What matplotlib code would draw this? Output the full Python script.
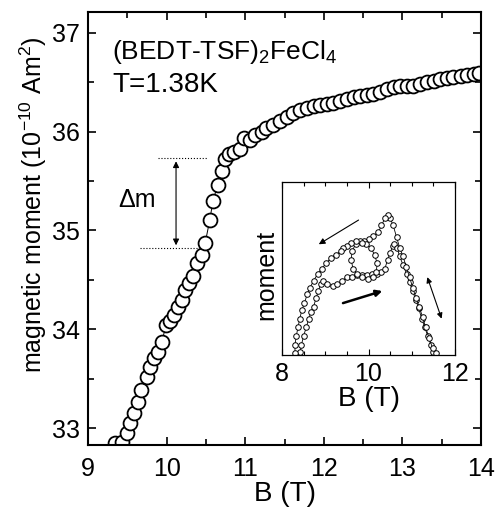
import matplotlib
matplotlib.use('Agg')
import matplotlib.pyplot as plt
from matplotlib.ticker import MultipleLocator, NullLocator

plt.rcParams['font.family'] = ['Liberation Sans', 'DejaVu Sans']
plt.rcParams['mathtext.fontset'] = 'custom'
plt.rcParams['mathtext.rm'] = 'Liberation Sans'
plt.rcParams['mathtext.it'] = 'Liberation Sans:italic'
plt.rcParams['mathtext.bf'] = 'Liberation Sans:bold'

# main curve: field (T) and magnetic moment (1e-10 Am^2)
field = [9.34, 9.43, 9.49, 9.53, 9.58, 9.63, 9.68, 9.75, 9.79, 9.84, 9.89, 9.94,
         9.99, 10.04, 10.10, 10.15, 10.19, 10.23, 10.29, 10.33, 10.39, 10.45, 10.49,
         10.55, 10.59, 10.65, 10.70, 10.74, 10.80, 10.86, 10.93, 10.98, 11.06, 11.12,
         11.21, 11.27, 11.36, 11.44, 11.53, 11.61, 11.70, 11.78, 11.87, 11.95, 12.04,
         12.12, 12.21, 12.29, 12.38, 12.46, 12.55, 12.63, 12.72, 12.80, 12.89, 12.97,
         13.06, 13.14, 13.23, 13.31, 13.40, 13.48, 13.57, 13.65, 13.74, 13.82, 13.91, 13.97]
moment = [32.85, 32.86, 32.95, 33.05, 33.15, 33.26, 33.39, 33.52, 33.62, 33.71, 33.77, 33.87,
          34.04, 34.08, 34.15, 34.23, 34.30, 34.40, 34.47, 34.54, 34.67, 34.75, 34.87,
          35.11, 35.30, 35.46, 35.60, 35.72, 35.77, 35.79, 35.82, 35.94, 35.92, 35.97,
          36.00, 36.04, 36.07, 36.11, 36.15, 36.19, 36.22, 36.24, 36.26, 36.27, 36.28,
          36.29, 36.31, 36.33, 36.35, 36.36, 36.37, 36.38, 36.40, 36.43, 36.45, 36.46,
          36.46, 36.46, 36.48, 36.50, 36.51, 36.53, 36.54, 36.55, 36.56, 36.57, 36.58, 36.59]

# inset: up sweep (lower curve), arbitrary moment units
up_B = [8.42, 8.45, 8.50, 8.56, 8.62, 8.67, 8.73, 8.79, 8.84, 8.90, 8.95, 9.05, 9.17,
        9.28, 9.39, 9.51, 9.62, 9.73, 9.85, 9.96, 10.08, 10.19, 10.30, 10.38, 10.44,
        10.50, 10.56, 10.60, 10.66, 10.72, 10.80, 10.88, 10.95, 11.02, 11.09, 11.16,
        11.23, 11.30, 11.37, 11.44, 11.50]
up_m = [0.02, 0.06, 0.11, 0.16, 0.21, 0.25, 0.28, 0.33, 0.37, 0.41, 0.43, 0.41, 0.40,
        0.41, 0.43, 0.45, 0.45, 0.46, 0.46, 0.46, 0.47, 0.47, 0.48, 0.50, 0.55,
        0.59, 0.63, 0.64, 0.62, 0.57, 0.52, 0.47, 0.42, 0.37, 0.32, 0.27,
        0.21, 0.16, 0.11, 0.06, 0.02]

# inset: down sweep (upper curve)
down_B = [11.55, 11.48, 11.40, 11.32, 11.25, 11.17, 11.10, 11.02, 10.95, 10.87, 10.80,
          10.72, 10.65, 10.57, 10.50, 10.45, 10.38, 10.30, 10.23, 10.11, 10.00, 9.90,
          9.80, 9.70, 9.62, 9.60, 9.64, 9.74, 9.86, 9.98, 10.10, 10.18, 10.20, 10.14,
          10.05, 9.95, 9.85, 9.72, 9.60, 9.50, 9.42, 9.36, 9.24, 9.13, 9.02, 8.92, 8.83,
          8.73, 8.65, 8.58, 8.52, 8.46, 8.41, 8.37, 8.33, 8.30, 8.30]
down_m = [0.01, 0.04, 0.10, 0.16, 0.22, 0.28, 0.33, 0.39, 0.45, 0.51, 0.57,
          0.62, 0.68, 0.75, 0.79, 0.81, 0.79, 0.75, 0.71, 0.69, 0.67, 0.66,
          0.66, 0.64, 0.60, 0.55, 0.50, 0.47, 0.45, 0.44, 0.45, 0.48, 0.53, 0.58,
          0.62, 0.64, 0.65, 0.66, 0.65, 0.63, 0.62, 0.60, 0.58, 0.56, 0.53, 0.50, 0.47,
          0.43, 0.39, 0.35, 0.30, 0.26, 0.21, 0.16, 0.11, 0.06, 0.01]

fig = plt.figure(figsize=(4.95, 5.16), dpi=100)
ax = fig.add_axes([0.1778, 0.1376, 0.7939, 0.8391])

ax.plot(field, moment, '-', color='black', lw=0.7, marker='o', ms=10,
        mfc='white', mec='black', mew=1.3)

ax.set_xlim(9, 14)
ax.set_ylim(32.83, 37.21)
ax.xaxis.set_major_locator(MultipleLocator(1))
ax.xaxis.set_minor_locator(MultipleLocator(0.5))
ax.yaxis.set_major_locator(MultipleLocator(1))
ax.yaxis.set_minor_locator(MultipleLocator(0.5))
ax.tick_params(which='both', direction='in', top=True, right=True, labelsize=18, width=1.2)
ax.tick_params(which='major', length=6)
ax.tick_params(which='minor', length=4)
ax.tick_params(axis='x', pad=9)
ax.tick_params(axis='y', pad=6)
for s in ax.spines.values():
    s.set_linewidth(1.5)

ax.set_xlabel('B (T)', fontsize=20, labelpad=0)
ax.set_ylabel('magnetic moment (10$^{-10}$ Am$^2$)', fontsize=18, labelpad=2, y=0.554)

ax.text(0.061, 0.908, '(BEDT-TSF)$_2$FeCl$_4$', transform=ax.transAxes,
        fontsize=19, va='center', ha='left')
ax.text(0.061, 0.831, 'T=1.38K', transform=ax.transAxes,
        fontsize=20, va='center', ha='left')
ax.text(0.125, 0.566, '\u0394m', transform=ax.transAxes,
        fontsize=18, va='center', ha='center')

# delta m markers
ax.plot([9.89, 10.53], [35.73, 35.73], ':', color='black', lw=0.8)
ax.plot([9.66, 10.40], [34.82, 34.82], ':', color='black', lw=0.8)
ax.annotate('', xy=(10.12, 35.70), xytext=(10.12, 34.85),
            arrowprops=dict(arrowstyle='<|-|>', color='black', lw=0.8,
                            mutation_scale=9, shrinkA=0, shrinkB=0))

# inset
ins = fig.add_axes([0.5697, 0.3120, 0.3495, 0.3353])
ins.plot(up_B, up_m, '-', color='black', lw=0.6, marker='o', ms=4,
         mfc='white', mec='black', mew=0.7)
ins.plot(down_B, down_m, '-', color='black', lw=0.6, marker='o', ms=4,
         mfc='white', mec='black', mew=0.7)
ins.set_xlim(8, 12)
ins.set_ylim(0, 1)
ins.xaxis.set_major_locator(MultipleLocator(2))
ins.xaxis.set_minor_locator(MultipleLocator(0.5))
ins.yaxis.set_major_locator(NullLocator())
ins.tick_params(which='both', direction='in', top=True, labelsize=18, width=0.8)
ins.tick_params(which='major', length=4)
ins.tick_params(which='minor', length=3)
ins.tick_params(axis='x', pad=5)
for s in ins.spines.values():
    s.set_linewidth(0.9)
ins.set_xlabel('B (T)', fontsize=20, labelpad=0)
ins.set_ylabel('moment', fontsize=18, labelpad=3, y=0.46)

ins.annotate('', xy=(8.85, 0.64), xytext=(9.77, 0.78),
             arrowprops=dict(arrowstyle='-|>', color='black', lw=0.8,
                             mutation_scale=9, shrinkA=0, shrinkB=0))
ins.annotate('', xy=(10.32, 0.37), xytext=(9.41, 0.30),
             arrowprops=dict(arrowstyle='-|>', color='black', lw=1.8,
                             mutation_scale=9, shrinkA=0, shrinkB=0))
ins.annotate('', xy=(11.69, 0.21), xytext=(11.36, 0.45),
             arrowprops=dict(arrowstyle='<|-|>', color='black', lw=0.8,
                             mutation_scale=8, shrinkA=0, shrinkB=0))

fig.savefig('out.png', dpi=100)
